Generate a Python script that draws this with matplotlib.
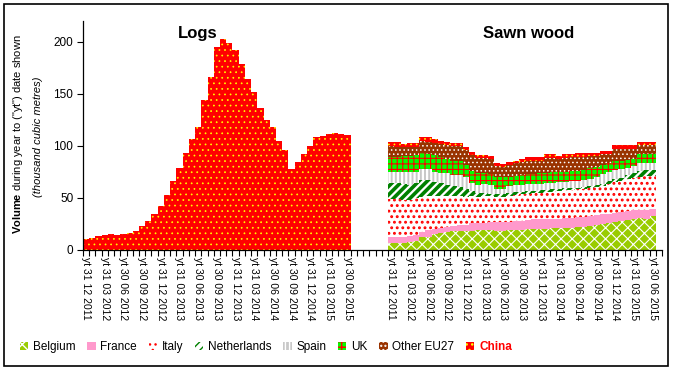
import numpy as np
import matplotlib.pyplot as plt
from matplotlib.patches import Rectangle

plt.rcParams['font.family'] = 'Liberation Sans'
plt.rcParams['mathtext.fontset'] = 'custom'
plt.rcParams['mathtext.rm'] = 'Liberation Sans'
plt.rcParams['mathtext.bf'] = 'Liberation Sans:bold'

# Quarter-end labels (shown every 3rd month)
quarter_labels = ['yt 31 12 2011', 'yt 31 03 2012', 'yt 30 06 2012', 'yt 30 09 2012',
                  'yt 31 12 2012', 'yt 31 03 2013', 'yt 30 06 2013', 'yt 30 09 2013',
                  'yt 31 12 2013', 'yt 31 03 2014', 'yt 30 06 2014', 'yt 30 09 2014',
                  'yt 31 12 2014', 'yt 31 03 2015', 'yt 30 06 2015']

# Logs - imports from China (monthly, year-to figures)
logs_china = [10.6, 11.5, 13.4, 14.4, 15.4, 14.4, 15.4, 16.3, 18.6, 23.4, 27.8, 34.9, 42.2,
              52.8, 66.2, 78.7, 93.1, 106.6, 118.0, 144.0, 166.0, 195.0, 202.6, 198.7, 192.0,
              178.6, 164.0, 151.7, 136.3, 124.8, 118.0, 104.6, 96.0, 77.8, 84.5, 92.2, 99.8,
              108.8, 109.4, 111.4, 112.3, 111.4, 110.7]

# Sawn wood by supplier
belgium = [6.4, 6.4, 7.0, 7.7, 9.0, 12.1, 12.1, 15.3, 15.9, 17.6, 18.5, 18.5, 18.5, 18.5, 19.2,
           19.2, 19.0, 18.5, 18.5, 19.0, 19.2, 19.5, 20.5, 20.5, 20.5, 20.5, 20.8, 21.0, 20.8,
           21.1, 21.8, 22.4, 23.4, 24.4, 25.2, 25.8, 26.9, 28.1, 29.2, 30.0, 30.4, 29.4, 32.6]
france = [6.4, 6.4, 5.8, 5.7, 5.4, 5.5, 7.1, 4.5, 4.9, 4.1, 4.5, 5.5, 5.5, 7.1, 6.4, 6.8, 7.5,
          8.0, 8.5, 8.2, 8.3, 8.5, 8.5, 9.0, 9.0, 9.5, 9.2, 9.2, 9.6, 9.7, 9.5, 9.6, 9.4, 9.1,
          9.0, 9.0, 8.7, 8.4, 8.2, 8.0, 8.0, 9.0, 6.4]
italy = [35.8, 35.8, 35.1, 34.5, 35.2, 33.5, 32.6, 32.0, 31.0, 30.1, 28.5, 27.5, 27.0, 26.0,
         25.5, 26.0, 25.0, 24.5, 24.0, 24.8, 25.5, 25.5, 25.0, 25.0, 25.5, 25.5, 26.0, 26.3,
         27.1, 27.0, 26.9, 26.8, 26.7, 27.0, 27.6, 28.4, 29.2, 30.0, 30.6, 31.5, 32.1, 32.6, 32.3]
netherlands = [15.3, 15.3, 15.0, 14.5, 14.5, 16.0, 15.3, 13.7, 12.1, 10.5, 9.6, 8.6, 7.9, 4.8,
               3.2, 2.5, 2.5, 2.5, 2.5, 2.5, 2.5, 2.5, 2.5, 2.5, 2.5, 2.5, 2.5, 2.5, 2.0, 1.5,
               1.6, 1.7, 1.7, 1.5, 1.7, 2.8, 3.2, 3.0, 3.5, 4.5, 5.0, 5.5, 5.4]
spain = [11.2, 11.2, 11.9, 12.8, 11.2, 10.3, 10.3, 9.6, 10.3, 11.2, 11.2, 12.1, 11.2, 8.0, 8.0,
         8.5, 8.0, 5.5, 5.5, 6.5, 6.5, 6.5, 6.5, 6.0, 6.0, 6.0, 6.0, 6.0, 6.0, 6.5, 6.4, 6.5,
         7.3, 8.0, 9.0, 9.0, 9.0, 8.3, 7.0, 6.5, 7.5, 6.5, 6.4]
uk = [14.4, 14.4, 15.3, 15.4, 16.0, 15.3, 14.7, 16.0, 14.7, 13.4, 12.8, 12.8, 11.2, 11.2, 11.2,
      11.0, 11.0, 11.0, 11.0, 9.5, 9.0, 9.5, 9.5, 10.0, 10.0, 10.0, 10.0, 9.5, 9.5, 9.7, 9.8,
      10.0, 9.8, 9.5, 9.0, 8.5, 8.0, 7.5, 7.5, 7.0, 9.0, 9.0, 9.0]
other_eu27 = [10.2, 9.6, 9.0, 8.6, 8.0, 11.8, 11.8, 11.8, 12.8, 13.8, 14.4, 14.4, 15.0, 16.0,
              15.0, 14.5, 14.5, 10.5, 10.0, 11.5, 12.0, 12.0, 13.0, 12.5, 12.0, 14.0, 13.5,
              13.0, 13.0, 13.5, 13.5, 12.5, 11.7, 10.5, 10.5, 8.5, 12.2, 11.9, 11.2, 9.7, 8.5,
              8.5, 8.6]
china = [3.6, 4.2, 2.8, 3.2, 3.2, 3.6, 4.2, 3.2, 3.2, 3.2, 3.2, 3.2, 2.6, 2.2, 2.5, 2.5, 2.5,
         2.5, 2.5, 2.5, 2.6, 3.0, 3.5, 3.5, 3.5, 4.0, 4.0, 3.0, 4.0, 3.1, 3.2, 3.2, 3.3, 3.3,
         3.3, 3.3, 3.5, 3.5, 3.5, 3.5, 3.4, 3.4, 3.2]

names = ['Belgium', 'France', 'Italy', 'Netherlands', 'Spain', 'UK', 'Other EU27', 'China']
sawn = [belgium, france, italy, netherlands, spain, uk, other_eu27, china]
# (face colour, hatch, hatch colour, hatch linewidth)
styles = [('#99cc00', 'xxx', 'white', 0.8),
          ('#ff99cc', None, '#ff99cc', 0.8),
          ('white', '...', 'red', 1.3),
          ('white', '////', '#008000', 2.6),
          ('#c8c8c8', '||||', 'white', 1.6),
          ('#00ff00', '+++', 'red', 0.8),
          ('#993300', '....', 'white', 0.6),
          ('red', '...', 'yellow', 0.5)]

n = len(logs_china)
x_logs = np.arange(n)
x_sawn = np.arange(n) + n + 6
n_cat = 2 * n + 7

fig = plt.figure(figsize=(6.73, 3.70), dpi=100)
ax = fig.add_axes([83 / 673, 120 / 370, 579 / 673, 229.3 / 370])

bottom = np.zeros(n)
handles = []
for name, vals, (fc, hatch, hc, hlw) in zip(names, sawn, styles):
    with plt.rc_context({'hatch.linewidth': hlw}):
        b = ax.bar(x_sawn, vals, width=1.0, bottom=bottom, color=fc, hatch=hatch,
                   edgecolor=hc, linewidth=0, label=name)
    handles.append(b)
    bottom += np.array(vals)

fc, hatch, hc, hlw = styles[-1]
with plt.rc_context({'hatch.linewidth': hlw}):
    ax.bar(x_logs, logs_china, width=1.0, color=fc, hatch=hatch, edgecolor=hc, linewidth=0)

ax.set_xlim(-0.5, n_cat - 0.5)
ax.set_ylim(0, 220)
ax.set_yticks([0, 50, 100, 150, 200])
ax.tick_params(axis='y', direction='out', length=4, labelsize=8.5, pad=3)
for s in ['top', 'right']:
    ax.spines[s].set_visible(False)
for s in ['left', 'bottom']:
    ax.spines[s].set_linewidth(0.9)

lab_pos = list(x_logs[::3]) + list(x_sawn[::3])
ax.set_xticks(lab_pos, quarter_labels + quarter_labels, rotation=-90, fontsize=7.5)
ax.tick_params(axis='x', which='major', length=0, pad=5)
ax.set_xticks(np.arange(n_cat + 1) - 0.5, minor=True)
ax.tick_params(axis='x', which='minor', direction='out', length=4, width=0.8)

ax.text(18, 208, 'Logs', ha='center', va='center', fontsize=12, fontweight='bold')
ax.text(71, 208, 'Sawn wood', ha='center', va='center', fontsize=12, fontweight='bold')

fig.text(18 / 673, 1 - 134 / 370, r'$\mathbf{Volume}$ during year to ("yt") date shown',
         rotation=90, ha='center', va='center', fontsize=8)
fig.text(38 / 673, 1 - 137 / 370, '(thousand cubic metres)', rotation=90,
         ha='center', va='center', fontsize=8, style='italic')

leg = fig.legend(handles=handles, loc='center', bbox_to_anchor=(266 / 673, 23 / 370),
                 ncol=8, frameon=False, fontsize=8.5, handlelength=0.7, handleheight=0.7,
                 handletextpad=0.4, columnspacing=1.0)
last = leg.get_texts()[-1]
last.set_color('red')
last.set_fontweight('bold')

fig.patches.append(Rectangle((4 / 673, 4 / 370), 664 / 673, 362 / 370, transform=fig.transFigure,
                             fill=False, edgecolor='black', linewidth=1.2))

fig.savefig('out.png', dpi=100)
